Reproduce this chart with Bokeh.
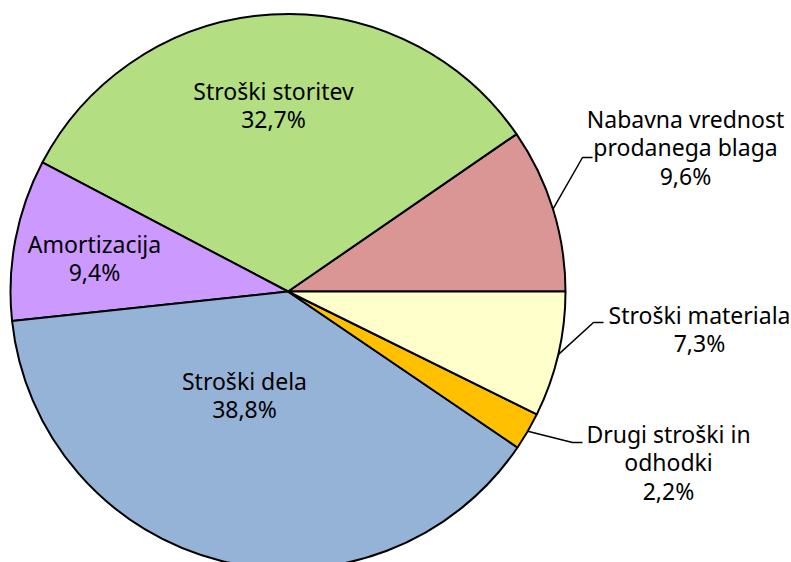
import math
from bokeh.plotting import figure
from bokeh.models import Range1d, ColumnDataSource
from bokeh.embed import file_html
from bokeh.resources import INLINE
from bokeh.core.properties import value

# ---- data ----
categories = ["Nabavna vrednost\nprodanega blaga", "Stroški storitev", "Amortizacija",
              "Stroški dela", "Drugi stroški in\nodhodki", "Stroški materiala"]
shares = [9.6, 32.7, 9.4, 38.8, 2.2, 7.3]
colors = ["#D99694", "#B3DE81", "#CC99FF", "#95B3D7", "#FFC000", "#FFFFCC"]

# ---- layout (pixels, y measured from top) ----
W, H = 791, 562
CX, CY, R = 287.5, 291.0, 277.5
# label centre x and first-line reference y
label_pos = [(685, 118), (273, 90), (94, 243), (244, 380), (668, 433), (699, 314)]
LINE_GAP = 28.5
# leader lines: (elbow x, elbow y, end x) or None for inside labels
leaders = [(582, 157, 592), None, None, None, (572, 442, 582), (593, 322, 603)]

total = sum(shares)
starts, ends, mids = [], [], []
acc = 0.0
for s in shares:
    a0 = acc / total * 2 * math.pi
    acc += s
    a1 = acc / total * 2 * math.pi
    starts.append(a0)
    ends.append(a1)
    mids.append((a0 + a1) / 2)

cy_data = H - CY

p = figure(width=W, height=H, x_range=Range1d(0, W), y_range=Range1d(0, H),
           output_backend="svg", toolbar_location=None, min_border=0,
           x_axis_type=None, y_axis_type=None)
p.grid.visible = False
p.outline_line_color = None
p.background_fill_color = "white"
p.border_fill_color = "white"

src = ColumnDataSource(dict(start=starts, end=ends, color=colors))
p.wedge(x=CX, y=cy_data, radius=R, start_angle="start", end_angle="end",
        direction="anticlock", fill_color="color", line_color="black",
        line_width=2, source=src)

xs, ys = [], []
for m, ld in zip(mids, leaders):
    if ld is None:
        continue
    ex, ey, endx = ld
    px = CX + R * math.cos(m)
    py = cy_data + R * math.sin(m)
    xs.append([px, ex, endx])
    ys.append([py, H - ey, H - ey])
p.multi_line(xs=xs, ys=ys, line_color="black", line_width=1.5)

tx, ty, tt = [], [], []
for c, s, (lx, ly) in zip(categories, shares, label_pos):
    lines = c.split("\n") + [f"{s:.1f}".replace(".", ",") + "%"]
    for i, line in enumerate(lines):
        tx.append(lx)
        ty.append(H - (ly + i * LINE_GAP))
        tt.append(line)
p.text(x=tx, y=ty, text=tt, text_align="center", text_baseline="alphabetic",
       text_font=value("Noto Sans"), text_font_size="23px", text_color="black")

open("out.html", "w").write(file_html(p, INLINE))
